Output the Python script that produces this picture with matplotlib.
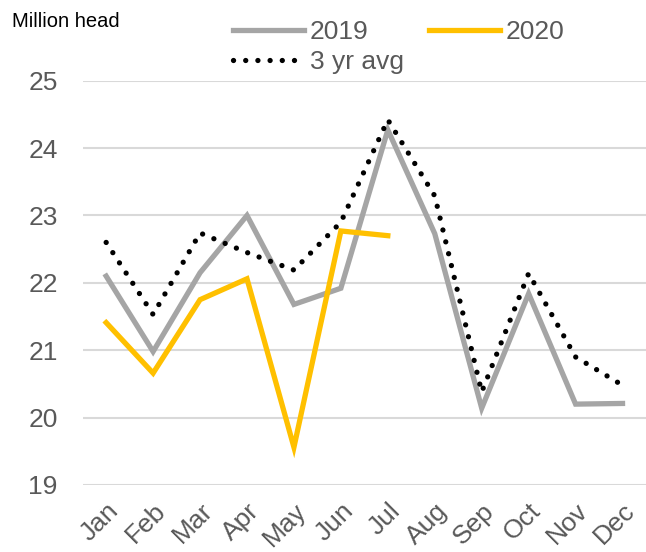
import matplotlib
matplotlib.use("Agg")
import matplotlib.pyplot as plt

months = ["Jan", "Feb", "Mar", "Apr", "May", "Jun", "Jul", "Aug", "Sep", "Oct", "Nov", "Dec"]
y2019 = [22.1, 20.98, 22.15, 23.0, 21.68, 21.92, 24.27, 22.73, 20.14, 21.84, 20.2, 20.21]
y2020 = [21.41, 20.66, 21.75, 22.06, 19.56, 22.77, 22.7]
avg3 = [22.6, 21.53, 22.74, 22.45, 22.19, 22.9, 24.42, 23.29, 20.38, 22.14, 20.9, 20.48]
yticks = [19, 20, 21, 22, 23, 24, 25]

plt.rcParams['font.family'] = ['Liberation Sans', 'DejaVu Sans']

fig = plt.figure(figsize=(6.46, 5.52), dpi=100)
ax = fig.add_axes([0.128, 0.1214, 0.872, 0.7324])

x = list(range(len(months)))
l1, = ax.plot(x, y2019, color="#A5A5A5", lw=3.8, solid_joinstyle="miter", label="2019", zorder=3)
l2, = ax.plot(x[:len(y2020)], y2020, color="#FFC000", lw=3.8, solid_joinstyle="miter", label="2020", zorder=4)
l3, = ax.plot(x, avg3, color="black", lw=3.8, linestyle=(0, (0.01, 2.3)), dash_capstyle="round",
              label="3 yr avg", zorder=5)

ax.set_xlim(-0.5, 11.5)
ax.set_ylim(19, 25)
ax.set_yticks(yticks)
ax.set_yticklabels([str(v) for v in yticks])
ax.set_xticks(x)
ax.set_xticklabels(months, rotation=45, ha="right", rotation_mode="anchor")
ax.grid(axis="y", color="#D9D9D9", lw=1.5)
ax.set_axisbelow(True)
for s in ax.spines.values():
    s.set_visible(False)
ax.tick_params(axis="both", length=0, labelsize=19, labelcolor="#595959")
ax.tick_params(axis="y", pad=18)
ax.tick_params(axis="x", pad=10)

fig.text(0.018, 0.979, "Million head", fontsize=14.5, color="black", va="top", ha="left")

fig.legend(handles=[l1, l3, l2], ncol=2, loc="upper left", bbox_to_anchor=(0.361, 0.964),
           frameon=False, fontsize=19, labelcolor="#595959", handlelength=2.7,
           handletextpad=0.2, columnspacing=0.95, labelspacing=0.25, borderaxespad=0, borderpad=0)

fig.savefig("out.png", dpi=100)
